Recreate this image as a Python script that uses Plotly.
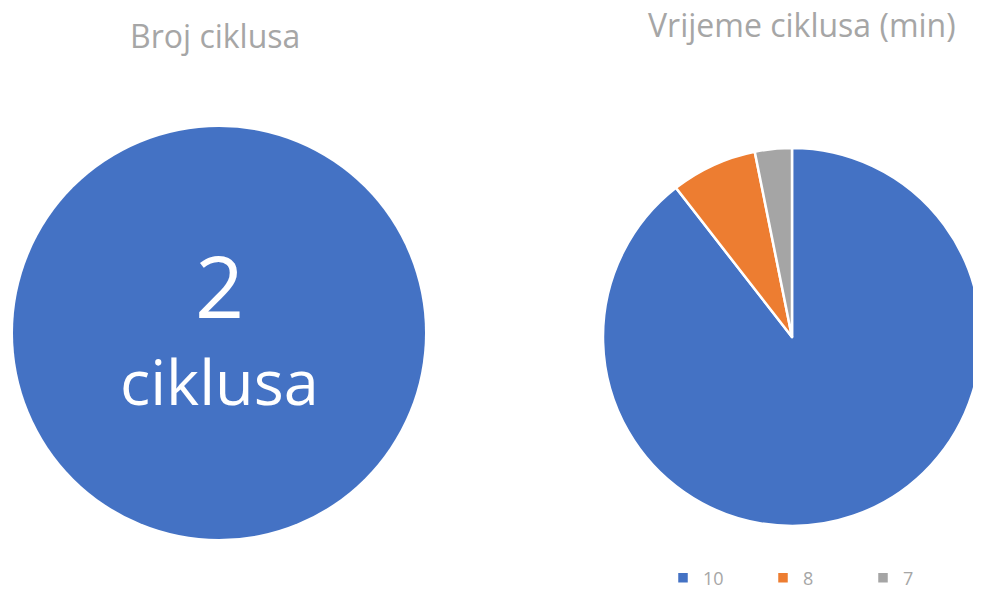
import plotly.graph_objects as go

# left chart: number of cycles (single full slice)
cycle_count_labels = ["ciklusi"]
cycle_count_values = [2]

# right chart: cycle time (min)
cycle_time_labels = ["10", "8", "7"]
cycle_time_values = [85, 7, 3]

BLUE = "#4472C4"
ORANGE = "#ED7D31"
GREY = "#A5A5A5"
TEXT_GREY = "#A6A6A6"
FONT = "Open Sans"

# the page body keeps its default 8px margin, so the figure is a bit smaller
OFF = 8
W, H = 981 - OFF, 591 - OFF


def px_x(x):
    return (x - OFF) / W


def px_y(y):
    return 1 - (y - OFF) / H


fig = go.Figure()

fig.add_trace(
    go.Pie(
        labels=cycle_count_labels,
        values=cycle_count_values,
        marker=dict(colors=[BLUE], line=dict(color=BLUE, width=0)),
        textinfo="none",
        hoverinfo="skip",
        showlegend=False,
        sort=False,
        domain=dict(x=[px_x(13), px_x(425)], y=[px_y(539), px_y(127)]),
    )
)

fig.add_trace(
    go.Pie(
        labels=cycle_time_labels,
        values=cycle_time_values,
        marker=dict(colors=[BLUE, ORANGE, GREY], line=dict(color="white", width=2.5)),
        textinfo="none",
        direction="clockwise",
        rotation=0,
        sort=False,
        domain=dict(x=[px_x(603), 1], y=[px_y(529), px_y(145)]),
    )
)

annotations = [
    dict(text="Broj ciklusa", x=px_x(215), y=px_y(36), font=dict(size=32, color=TEXT_GREY)),
    dict(text="Vrijeme ciklusa (min)", x=px_x(802), y=px_y(25), font=dict(size=32, color=TEXT_GREY)),
    dict(text="2", x=px_x(219), y=px_y(284), font=dict(size=86, color="white")),
    dict(text="ciklusa", x=px_x(219), y=px_y(380), font=dict(size=63, color="white")),
]
for a in annotations:
    a.update(xref="paper", yref="paper", showarrow=False, xanchor="center", yanchor="middle")

fig.update_layout(
    width=W,
    height=H,
    margin=dict(l=0, r=0, t=0, b=0, autoexpand=False),
    paper_bgcolor="white",
    plot_bgcolor="white",
    font=dict(family=FONT, color=TEXT_GREY),
    annotations=annotations,
    legend=dict(
        orientation="h",
        x=px_x(663),
        xanchor="left",
        y=px_y(578),
        yanchor="middle",
        entrywidth=55,
        font=dict(size=18, color=TEXT_GREY),
        itemwidth=30,
    ),
)

fig.write_html("out.html")
